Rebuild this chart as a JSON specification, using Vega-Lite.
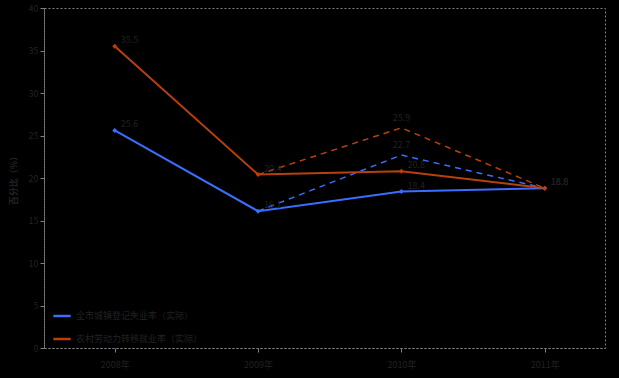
{
  "$schema": "https://vega.github.io/schema/vega-lite/v6.json",
  "autosize": {"type": "none"},
  "width": 561,
  "height": 340,
  "padding": {"left": 44, "top": 8, "right": 14, "bottom": 30},
  "background": "#000000",
  "config": {
    "view": {"stroke": "#808080", "strokeDash": [2, 2], "strokeWidth": 1},
    "font": "Noto Sans CJK SC",
    "axis": {"labelColor": "#222222", "titleColor": "#222222", "domainColor": "#808080", "domainDash": [2, 2], "tickColor": "#808080", "grid": false, "labelFontSize": 9, "titleFontSize": 9}
  },
  "data": {
    "values": [
      {"year": "2008年", "group": "全市城镇登记失业率（实际）", "kind": "actual", "value": 25.6},
      {"year": "2009年", "group": "全市城镇登记失业率（实际）", "kind": "actual", "value": 16.1},
      {"year": "2010年", "group": "全市城镇登记失业率（实际）", "kind": "actual", "value": 18.4},
      {"year": "2011年", "group": "全市城镇登记失业率（实际）", "kind": "actual", "value": 18.8},
      {"year": "2009年", "group": "全市城镇登记失业率（实际）", "kind": "projected", "value": 16.1},
      {"year": "2010年", "group": "全市城镇登记失业率（实际）", "kind": "projected", "value": 22.7},
      {"year": "2011年", "group": "全市城镇登记失业率（实际）", "kind": "projected", "value": 18.8},
      {"year": "2008年", "group": "农村劳动力转移就业率（实际）", "kind": "actual", "value": 35.5},
      {"year": "2009年", "group": "农村劳动力转移就业率（实际）", "kind": "actual", "value": 20.4},
      {"year": "2010年", "group": "农村劳动力转移就业率（实际）", "kind": "actual", "value": 20.8},
      {"year": "2011年", "group": "农村劳动力转移就业率（实际）", "kind": "actual", "value": 18.8},
      {"year": "2009年", "group": "农村劳动力转移就业率（实际）", "kind": "projected", "value": 20.4},
      {"year": "2010年", "group": "农村劳动力转移就业率（实际）", "kind": "projected", "value": 25.9},
      {"year": "2011年", "group": "农村劳动力转移就业率（实际）", "kind": "projected", "value": 18.8}
    ]
  },
  "encoding": {
    "x": {"field": "year", "type": "ordinal", "sort": ["2008年", "2009年", "2010年", "2011年"], "scale": {"type": "point", "padding": 0.457, "align": 0.54},
          "axis": {"title": null, "labelAngle": 0, "ticks": true, "tickSize": 4, "labelPadding": 8}},
    "y": {"field": "value", "type": "quantitative", "scale": {"domain": [0, 40]},
          "axis": {"title": "百分比（%）", "values": [0,5,10,15,20,25,30,35,40], "labelOverlap": false, "tickSize": 4, "titlePadding": 10}},
    "color": {"field": "group", "type": "nominal",
              "scale": {"domain": ["全市城镇登记失业率（实际）", "农村劳动力转移就业率（实际）"], "range": ["#3A6EFF", "#B8400C"]},
              "legend": {"title": null, "orient": "none", "legendX": 8, "legendY": 298, "labelColor": "#222222", "labelFontSize": 9, "symbolType": "stroke", "symbolStrokeWidth": 2.5, "symbolSize": 300, "rowPadding": 8}}
  },
  "layer": [
    {
      "transform": [{"filter": "datum.kind == 'projected'"}],
      "mark": {"type": "line", "strokeDash": [6, 5], "strokeWidth": 1.5}
    },
    {
      "transform": [{"filter": "datum.kind == 'actual'"}],
      "mark": {"type": "line", "strokeWidth": 2, "point": {"filled": true, "size": 25, "shape": "diamond"}}
    },
    {
      "transform": [{"filter": "datum.kind == 'actual'"}],
      "mark": {"type": "text", "align": "left", "dx": 6, "dy": -6, "fontSize": 9},
      "encoding": {"text": {"field": "value", "type": "quantitative", "format": ".1f"}, "color": {"value": "#222222"}}
    },
    {
      "transform": [{"filter": "datum.kind == 'projected' && datum.year == '2010年'"}],
      "mark": {"type": "text", "align": "center", "dy": -10, "fontSize": 9},
      "encoding": {"text": {"field": "value", "type": "quantitative", "format": ".1f"}, "color": {"value": "#222222"}}
    }
  ]
}
